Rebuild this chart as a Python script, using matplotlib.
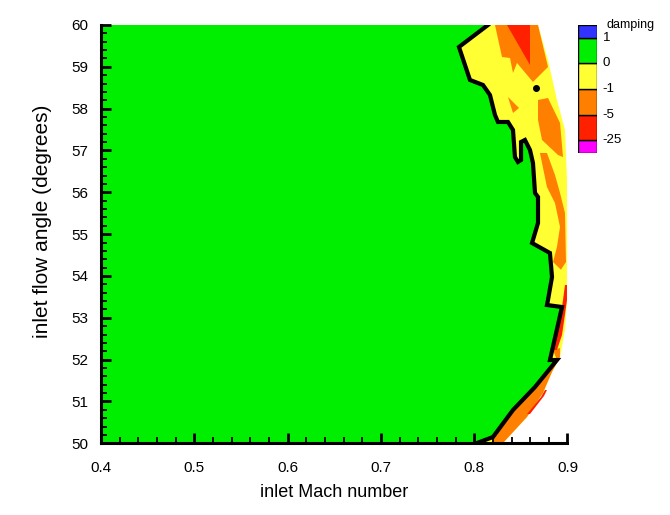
import numpy as np
import matplotlib
matplotlib.use("Agg")
import matplotlib.pyplot as plt

# zero-damping contour (Mach, angle), top to bottom
zero_mach = [0.8148, 0.7837, 0.7955, 0.8094, 0.8169, 0.8223, 0.8255, 0.8362, 0.8416,
             0.8437, 0.8469, 0.8502, 0.8502, 0.8544, 0.8598, 0.8630, 0.8652, 0.8684,
             0.8684, 0.8620, 0.8812, 0.8834, 0.8791, 0.8780, 0.8941, 0.8812, 0.8887,
             0.8652, 0.8416, 0.8201, 0.8030]
zero_angle = [60.0, 59.474, 58.685, 58.566, 58.327, 57.848, 57.681, 57.681, 57.490,
              56.844, 56.725, 56.773, 57.203, 57.251, 57.012, 56.701, 55.984, 55.888,
              55.267, 54.788, 54.549, 53.976, 53.426, 53.306, 53.258, 51.991, 51.991,
              51.346, 50.796, 50.150, 50.007]

# edge of computed region
edge_mach = [0.8684, 0.8791, 0.8887, 0.8973, 0.8995, 0.9, 0.8995, 0.8973, 0.8920,
             0.8834, 0.8737, 0.8566, 0.8309]
edge_angle = [60.0, 59.163, 58.207, 57.490, 56.295, 54.382, 53.426, 52.709, 52.063,
              51.705, 51.202, 50.629, 50.007]

# regions with damping between -5 and -1
orange_regions = [
    ([0.8223, 0.8684, 0.8791, 0.8630, 0.8459, 0.8416, 0.8384, 0.8298],
     [60.0, 60.0, 58.996, 58.637, 59.092, 58.852, 59.211, 59.235]),
    ([0.8362, 0.8480, 0.8416],
     [58.279, 58.016, 57.896]),
    ([0.8684, 0.8791, 0.8920, 0.8952, 0.8898, 0.8727, 0.8684],
     [58.207, 58.255, 57.657, 56.844, 56.892, 57.251, 57.729]),
    ([0.8705, 0.8780, 0.8866, 0.8920, 0.8973, 0.8984, 0.8930, 0.8845, 0.8887, 0.8920, 0.8866, 0.8780],
     [56.940, 56.940, 56.414, 55.984, 55.506, 54.334, 54.150, 54.334, 54.693, 55.171, 55.745, 56.127]),
    ([0.8845, 0.8920, 0.8920, 0.8834, 0.8737, 0.8566, 0.8309, 0.8201, 0.8201, 0.8416, 0.8652, 0.8887],
     [52.230, 52.278, 52.063, 51.705, 51.202, 50.629, 50.007, 50.007, 50.150, 50.796, 51.346, 51.991]),
]

# regions with damping between -25 and -5
red_regions = [
    ([0.8352, 0.8598, 0.8598],
     [60.0, 60.0, 59.044]),
    ([0.8973, 0.9, 0.8995, 0.8941, 0.8887, 0.8845, 0.8898, 0.8941, 0.8952],
     [53.784, 53.784, 53.426, 52.589, 52.230, 52.230, 52.709, 53.258, 53.426]),
    ([0.8759, 0.8716, 0.8566, 0.8598, 0.8748, 0.8780],
     [51.274, 51.107, 50.700, 50.700, 51.131, 51.274]),
]

# isolated zero-damping spot
spot_mach = [0.8662]
spot_angle = [58.494]

# legend
leg_labels = ["-25", "-5", "-1", "0", "1"]
leg_colors = ["#ff00ff", "#ff2000", "#ff8000", "#ffff33", "#00ee00", "#3333ff"]
leg_heights = [0.5, 1, 1, 1, 1, 0.5]

GREEN = "#00ee00"
YELLOW = "#ffff33"
ORANGE = "#ff8000"
RED = "#ff2000"

plt.rcParams['font.family'] = ['Liberation Sans', 'DejaVu Sans']

fig = plt.figure(figsize=(6.7, 5.15), dpi=100)
ax = fig.add_axes([0.1507, 0.1392, 0.6963, 0.8123])

# computed domain (yellow by default)
ax.fill([0.4] + edge_mach + [0.4], [60.0] + edge_angle + [50.0], color=YELLOW, lw=0, zorder=1)
# stable region
ax.fill([0.4] + zero_mach + [0.4], [60.0] + zero_angle + [50.0], color=GREEN, lw=0, zorder=2)
for xs, ys in orange_regions:
    ax.fill(xs, ys, color=ORANGE, lw=0, zorder=3)
for xs, ys in red_regions:
    ax.fill(xs, ys, color=RED, lw=0, zorder=4)

ax.plot(zero_mach, zero_angle, color="black", lw=3, solid_joinstyle="miter", zorder=5)
ax.plot(spot_mach, spot_angle, "o", color="black", ms=4, zorder=5)

ax.set_xlim(0.4, 0.9)
ax.set_ylim(50, 60)
ax.set_xticks(np.arange(0.4, 0.91, 0.1))
ax.set_xticks(np.arange(0.4, 0.901, 0.02), minor=True)
ax.set_yticks(np.arange(50, 61, 1))
ax.set_yticks(np.arange(50, 60.01, 0.2), minor=True)
ax.set_xticklabels(["0.4", "0.5", "0.6", "0.7", "0.8", "0.9"])
ax.tick_params(which="major", direction="in", length=7, width=2, labelsize=11, pad=9)
ax.tick_params(axis="x", which="major", pad=13)
ax.tick_params(which="minor", direction="in", length=4.5, width=1.3)
for s in ["top", "right"]:
    ax.spines[s].set_visible(False)
for s in ["left", "bottom"]:
    ax.spines[s].set_linewidth(2.2)
    ax.spines[s].set_zorder(10)
ax.xaxis.set_zorder(10)
ax.yaxis.set_zorder(10)

ax.set_xlabel("inlet Mach number", fontsize=13, labelpad=6)
ax.set_ylabel("inlet flow angle (degrees)", fontsize=15)
ax.yaxis.set_label_coords(-0.104, 0.53)

# legend boxes
lax = fig.add_axes([0.8627, 0.7029, 0.0284, 0.2485])
bottoms = np.concatenate([[0], np.cumsum(leg_heights)[:-1]])
lax.bar(0.5, leg_heights, bottom=bottoms, width=1, color=leg_colors, edgecolor="black", lw=1)
lax.set_xlim(0, 1)
lax.set_ylim(0, sum(leg_heights))
lax.axis("off")
for i, lab in enumerate(leg_labels):
    lax.text(1.3, bottoms[i + 1], lab, fontsize=9.5, va="center", ha="left")
lax.text(1.5, sum(leg_heights), "damping", fontsize=9, va="center", ha="left")

fig.savefig("out.png", dpi=100)
